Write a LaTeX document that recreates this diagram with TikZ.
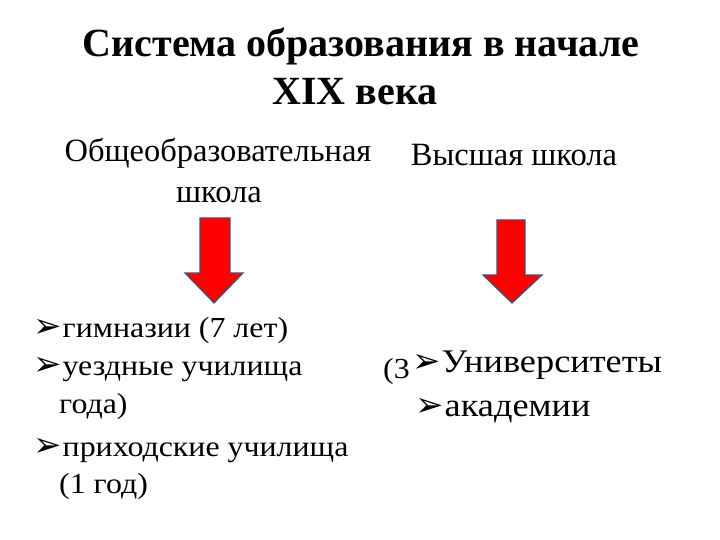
\documentclass[tikz,border=0pt]{standalone}
\usepackage{fontspec}
\setmainfont{Liberation Serif}
\newfontfamily\listfont[FakeStretch=1.1]{Liberation Serif}
\newfontfamily\symfont{DejaVu Sans}
\usetikzlibrary{positioning}

\definecolor{arrowred}{RGB}{255,0,0}
\definecolor{arrowedge}{RGB}{70,80,110}
\newcommand{\bul}{{\symfont\fontsize{34}{34}\selectfont ➢}\hspace{1pt}}

\begin{document}
\begin{tikzpicture}[x=1pt,y=-1pt,
    titletext/.style={font=\fontsize{40}{44}\bfseries\selectfont, anchor=base, inner sep=0pt},
    headtext/.style={font=\fontsize{32.5}{36}\selectfont, anchor=base, inner sep=0pt},
    itemtext/.style={font=\listfont\fontsize{29}{32}\selectfont, anchor=base west, inner sep=0pt},
    bigitem/.style={itemtext, font=\listfont\fontsize{33}{36}\selectfont},
    blockarrow/.style={fill=arrowred, draw=arrowedge, line width=1.2pt, line join=miter}]
  \useasboundingbox (0,0) rectangle (720,540);
  % title
  \node[titletext] (title1) at (361,57) {Система образования в начале};
  \node[titletext] (title2) at (355,105) {XIX века};
  % headings
  \node[headtext] (general) at (218,162) {Общеобразовательная};
  \node[headtext] (generalb) at (219,203) {школа};
  \node[headtext] (higher) at (514,166) {Высшая школа};
  % arrows
  \draw[blockarrow] (200,218) -- (230,218) -- (230,273) -- (243,273) -- (214,303)
    -- (185,273) -- (200,273) -- cycle;
  \draw[blockarrow] (497,220) -- (525,220) -- (525,275) -- (542,275) -- (512,303)
    -- (483,275) -- (497,275) -- cycle;
  % left list
  \node[itemtext] (gym) at (33,337) {\bul гимназии (7 лет)};
  \node[itemtext] (uezd) at (33,375) {\bul уездные училища};
  \node[itemtext] (uezdb) at (59,413) {года)};
  \node[itemtext] (prih) at (33,456) {\bul приходские училища};
  \node[itemtext] (prihb) at (59,493) {(1 год)};
  % right list
  \node[itemtext] (three) at (383,378) {(3};
  \node[bigitem] (univ) at (412,372) {\bul Университеты};
  \node[bigitem] (acad) at (415,416) {\bul академии};
\end{tikzpicture}
\end{document}
